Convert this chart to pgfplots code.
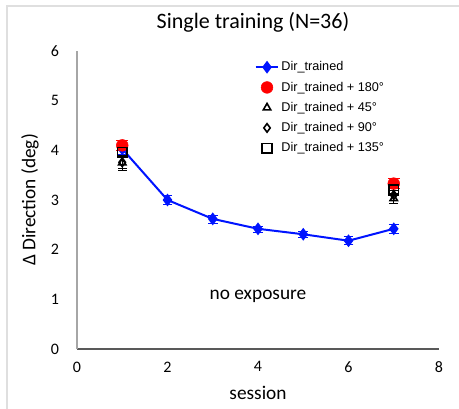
\documentclass[border=0pt]{standalone}
\usepackage{fontspec}
\setmainfont{Carlito}
\newfontfamily\legfont{Liberation Sans}
\usepackage{pgfplots}
\pgfplotsset{compat=1.18}

\definecolor{trainblue}{RGB}{0,20,255}
\definecolor{markred}{RGB}{255,0,0}
\definecolor{axisgray}{RGB}{166,166,166}
\definecolor{basegray}{RGB}{89,89,89}

\begin{document}
\begin{tikzpicture}
\begin{axis}[
    at={(0,0)}, anchor=south west,
    scale only axis,
    width=271.5pt, height=223.5pt,
    xmin=0, xmax=8, ymin=0, ymax=6,
    xtick={0,2,4,6,8}, ytick={0,1,2,3,4,5,6},
    axis x line*=bottom, axis y line*=left,
    x axis line style={draw=basegray, line width=0.9pt, -},
    y axis line style={draw=axisgray, line width=1.4pt, -},
    major tick length=0pt,
    tick label style={font=\fontsize{12}{14}\selectfont},
    /pgf/number format/assume math mode=true,
    yticklabel style={xshift=-10pt},
    xticklabel style={yshift=-6pt},
    clip=false,
    legend style={draw=none, fill=none, at={(rel axis cs:0.49,0.972)}, anchor=north west,
        font=\legfont\fontsize{9.5}{11}\selectfont, row sep=3.8pt, inner sep=0pt,
        nodes={inner sep=1.5pt}},
    legend cell align=left,
]
\addplot[color=trainblue, line width=1.5pt, mark=diamond*, mark size=3.6pt,
    error bars/.cd, y dir=both, y explicit, error bar style={line width=1pt, color=trainblue}]
    coordinates {(1,4.03) +- (0,0.1) (2,3.0) +- (0,0.09) (3,2.62) +- (0,0.08) (4,2.42) +- (0,0.06)
                 (5,2.31) +- (0,0.07) (6,2.18) +- (0,0.08) (7,2.42) +- (0,0.09)};
\addlegendentry{Dir\_trained}
\addplot[only marks, color=markred, mark=*, mark size=4.4pt,
    error bars/.cd, y dir=both, y explicit, error bar style={line width=1pt, color=markred}]
    coordinates {(1,4.1) +- (0,0.1) (7,3.33) +- (0,0.1)};
\addlegendentry{Dir\_trained + 180°}
\addplot[only marks, color=black, mark=triangle, mark size=3.2pt, mark options={line width=1.2pt},
    error bars/.cd, y dir=both, y explicit, error bar style={line width=1pt, color=black}]
    coordinates {(1,3.75) +- (0,0.15) (7,3.03) +- (0,0.1)};
\addlegendentry{Dir\_trained + 45°}
\addplot[only marks, color=black, mark=diamond, mark size=3.2pt, mark options={line width=1.2pt},
    error bars/.cd, y dir=both, y explicit, error bar style={line width=1pt, color=black}]
    coordinates {(1,3.76) +- (0,0.12) (7,3.1) +- (0,0.1)};
\addlegendentry{Dir\_trained + 90°}
\addplot[only marks, color=black, mark=square, mark size=3.6pt, mark options={line width=1.2pt},
    error bars/.cd, y dir=both, y explicit, error bar style={line width=1pt, color=black}]
    coordinates {(1,3.96) +- (0,0.1) (7,3.2) +- (0,0.1)};
\addlegendentry{Dir\_trained + 135°}
\node[font=\fontsize{14.5}{16}\selectfont] at (axis cs:4,1.05) {no exposure};
\end{axis}
% titles and axis labels, placed relative to the axis corner at (0,0)
\node[font=\fontsize{16.5}{18}\selectfont] at (132pt,245.25pt) {Single training (N=36)};
\node[font=\fontsize{14.5}{16}\selectfont] at (135.75pt,-33pt) {session};
\node[font=\fontsize{14.5}{16}\selectfont, rotate=90] at (-35.25pt,111.75pt) {Δ Direction (deg)};
% outer chart frame (left and top edges visible)
\draw[gray!25, line width=0.8pt] (-52.5pt,-45pt) -- (-52.5pt,257.25pt) -- (286.5pt,257.25pt);
\pgfresetboundingbox
\useasboundingbox (-57.75pt,-45pt) rectangle (286.5pt,261.75pt);
\end{tikzpicture}
\end{document}
